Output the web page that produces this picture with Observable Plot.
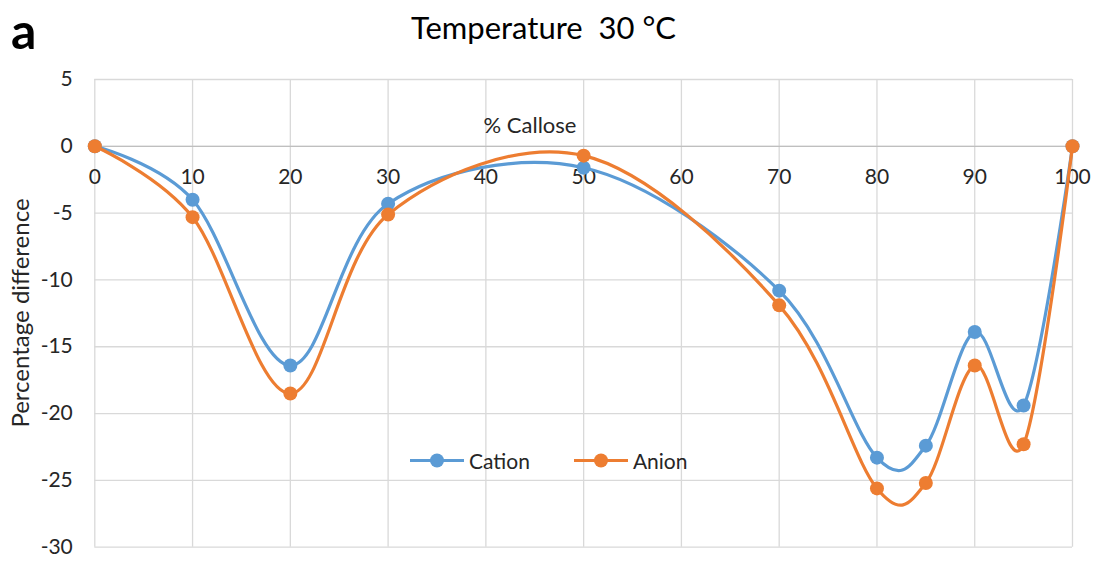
<!DOCTYPE html>
<html><head><meta charset="utf-8">
<script src="https://cdn.jsdelivr.net/npm/d3@7"></script>
<script src="https://cdn.jsdelivr.net/npm/@observablehq/plot@0.6"></script>
<style>
body{margin:0;background:#fff;font-family:Lato,"Open Sans",sans-serif;color:#262626}
#wrap{position:relative;width:1094px;height:561px;overflow:hidden}
#head{position:relative;height:60px}
#tag{position:absolute;left:11px;top:0px;font-weight:bold;font-size:50px;color:#000}
#title{position:absolute;left:0;width:1087px;top:8px;text-align:center;font-size:31px;line-height:38px;color:#000}
#xlab{position:absolute;left:530px;top:124px;transform:translate(-50%,-50%);font-size:22px;white-space:nowrap}
#ylab{position:absolute;left:19px;top:313px;transform:translate(-50%,-50%) rotate(-90deg);font-size:24px;white-space:nowrap}
#legend{position:absolute;left:410px;top:460px;transform:translateY(-50%);display:flex;align-items:center;font-size:21px}
.item{display:flex;align-items:center;margin-right:44px}
.item svg{margin-right:5px}
</style></head><body>
<div id="wrap">
  <div id="head"><div id="tag">a</div><div id="title">Temperature&nbsp; 30 °C</div></div>
  <div id="chart"></div>
  <div id="xlab">% Callose</div>
  <div id="ylab">Percentage difference</div>
  <div id="legend"></div>
</div>
<script>
const callose = [0, 10, 20, 30, 50, 70, 80, 85, 90, 95, 100];
const cation  = [0, -4.0, -16.4, -4.3, -1.6, -10.8, -23.3, -22.4, -13.9, -19.4, 0];
const anion   = [0, -5.3, -18.5, -5.1, -0.7, -11.9, -25.6, -25.2, -16.4, -22.3, 0];
const xTicks = [0, 10, 20, 30, 40, 50, 60, 70, 80, 90, 100];
const yTicks = [5, 0, -5, -10, -15, -20, -25, -30];
const seriesNames = ["Cation", "Anion"];
const seriesColors = ["#5b9bd5", "#ed7d31"];

const rows = [];
[cation, anion].forEach((vals, s) => callose.forEach((c, i) => rows.push({series: seriesNames[s], x: c, y: vals[i]})));

const grid = "#d9d9d9";
const marks = [
  Plot.ruleY(yTicks, {stroke: grid, strokeWidth: 1.3}),
  Plot.ruleX(xTicks, {stroke: grid, strokeWidth: 1.3}),
  Plot.ruleY([0], {stroke: "#bfbfbf", strokeWidth: 1.3}),
  Plot.axisY(yTicks, {tickSize: 0, tickPadding: 22, fontSize: 21, fill: "#262626",
    tickFormat: d => String(d), label: null}),
  Plot.text(xTicks, {x: d => d, y: 0, dy: 31, text: d => String(d), fontSize: 21, fill: "#262626"})
];
seriesNames.forEach((name, s) => {
  const data = rows.filter(r => r.series === name);
  marks.push(Plot.line(data, {x: "x", y: "y", stroke: seriesColors[s], strokeWidth: 3.2, curve: "cardinal"}));
  marks.push(Plot.dot(data, {x: "x", y: "y", fill: seriesColors[s], r: 7}));
});

const chart = Plot.plot({
  width: 1094, height: 501,
  marginLeft: 94.3, marginRight: 22, marginTop: 19, marginBottom: 14.3,
  style: {fontFamily: "Lato, 'Open Sans', sans-serif", fontSize: "21px", color: "#262626", background: "#fff"},
  x: {domain: [0, 100], axis: null},
  y: {domain: [-30, 5], axis: null},
  marks
});
document.getElementById("chart").appendChild(chart);

const leg = document.getElementById("legend");
seriesNames.forEach((name, s) => {
  const it = document.createElement("div");
  it.className = "item";
  it.innerHTML = `<svg width="54" height="16"><line x1="0" y1="8" x2="54" y2="8" stroke="${seriesColors[s]}" stroke-width="3.2"/><circle cx="27" cy="8" r="7" fill="${seriesColors[s]}"/></svg><span>${name}</span>`;
  leg.appendChild(it);
});
</script>
</body></html>
